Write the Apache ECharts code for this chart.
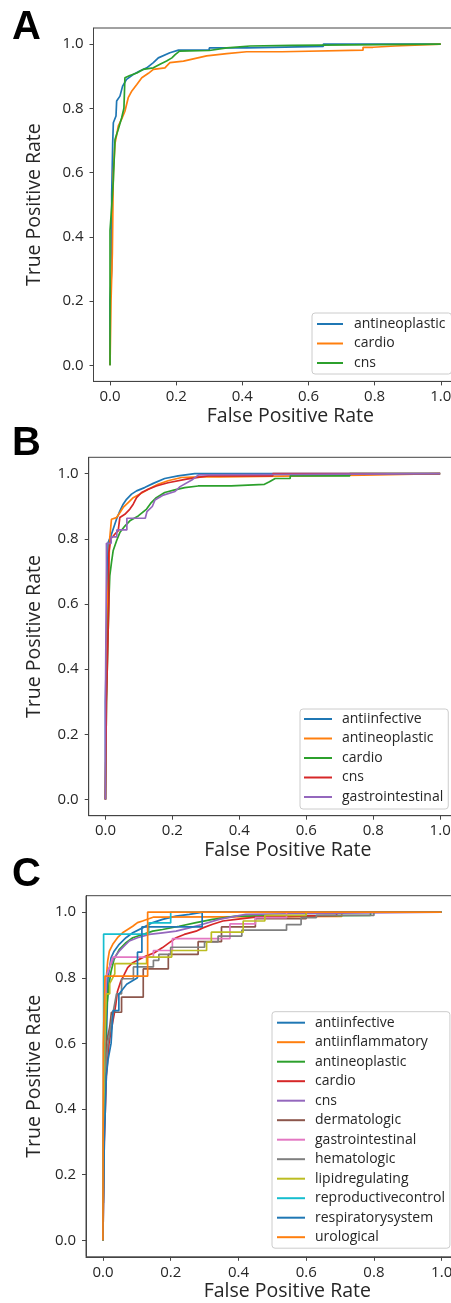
<!DOCTYPE html>
<html><head><meta charset="utf-8">
<script src="https://cdn.jsdelivr.net/npm/echarts@6/dist/echarts.min.js"></script>
<style>html,body{margin:0;padding:0;background:#fff}#c{width:451px;height:1303px}</style>
</head><body><div id="c"></div>
<script>
// ---------- DATA ----------
const tickValues = [0, 0.2, 0.4, 0.6, 0.8, 1.0];
const panelLetters = ['A', 'B', 'C'];
const xTitle = 'False Positive Rate';
const yTitle = 'True Positive Rate';

// Panel A
const namesA = ['antineoplastic', 'cardio', 'cns'];
const A_antineoplastic = [[0,0],[0,0.2],[0.005,0.3],[0.005,0.53],[0.008,0.69],[0.01,0.755],[0.018,0.776],[0.02,0.823],[0.03,0.838],[0.038,0.869],[0.05,0.89],[0.07,0.905],[0.09,0.916],[0.111,0.926],[0.131,0.942],[0.146,0.957],[0.181,0.973],[0.207,0.981],[0.3,0.981],[0.3,0.988],[0.413,0.988],[0.413,0.993],[0.645,0.993],[0.645,1],[1,1]];
const A_cardio = [[0,0],[0.003,0.2],[0.007,0.35],[0.01,0.6],[0.015,0.69],[0.025,0.745],[0.035,0.766],[0.045,0.791],[0.055,0.833],[0.066,0.854],[0.081,0.874],[0.096,0.895],[0.116,0.909],[0.131,0.921],[0.166,0.926],[0.181,0.942],[0.222,0.947],[0.252,0.954],[0.292,0.963],[0.353,0.97],[0.413,0.976],[0.52,0.976],[0.52,0.981],[0.765,0.981],[0.765,0.99],[0.795,0.99],[0.795,0.994],[0.862,0.994],[0.862,1],[1,1]];
const A_cns = [[0,0],[0,0.42],[0.005,0.494],[0.01,0.577],[0.015,0.703],[0.025,0.735],[0.035,0.77],[0.042,0.8],[0.045,0.8],[0.045,0.895],[0.06,0.902],[0.081,0.91],[0.1,0.921],[0.131,0.926],[0.151,0.937],[0.171,0.947],[0.187,0.957],[0.197,0.967],[0.21,0.978],[0.3,0.98],[0.353,0.988],[0.423,0.994],[0.55,0.996],[0.55,1],[1,1]];

// Panel B
const namesB = ['antiinfective', 'antineoplastic', 'cardio', 'cns', 'gastrointestinal'];
const B_antiinfective = [[0,0],[0,0.3],[0.005,0.6],[0.008,0.788],[0.018,0.814],[0.033,0.86],[0.043,0.885],[0.053,0.906],[0.063,0.921],[0.078,0.937],[0.093,0.947],[0.117,0.957],[0.143,0.97],[0.177,0.985],[0.217,0.993],[0.267,1],[1,1]];
const B_antineoplastic = [[0,0],[0.002,0.3],[0.006,0.6],[0.013,0.803],[0.018,0.86],[0.033,0.865],[0.043,0.88],[0.053,0.896],[0.068,0.911],[0.083,0.926],[0.103,0.937],[0.128,0.952],[0.157,0.967],[0.187,0.978],[0.227,0.988],[0.277,0.99],[0.343,0.99],[0.343,0.995],[0.77,0.995],[0.77,1],[1,1]];
const B_cardio = [[0,0],[0.003,0.3],[0.01,0.6],[0.013,0.686],[0.018,0.727],[0.023,0.763],[0.033,0.793],[0.043,0.819],[0.058,0.839],[0.073,0.855],[0.098,0.87],[0.123,0.891],[0.137,0.911],[0.152,0.926],[0.177,0.942],[0.207,0.95],[0.237,0.957],[0.277,0.962],[0.376,0.962],[0.376,0.967],[0.475,0.967],[0.49,0.975],[0.507,0.985],[0.552,0.985],[0.552,0.993],[0.73,0.993],[0.73,1],[1,1]];
const B_cns = [[0,0],[0.003,0.3],[0.01,0.6],[0.01,0.757],[0.016,0.8],[0.028,0.814],[0.038,0.824],[0.043,0.865],[0.058,0.875],[0.073,0.891],[0.083,0.906],[0.093,0.926],[0.108,0.942],[0.128,0.952],[0.152,0.962],[0.187,0.972],[0.242,0.983],[0.307,0.993],[0.5,0.993],[0.5,1],[1,1]];
const B_gastrointestinal = [[0,0],[0,0.3],[0.003,0.72],[0.003,0.786],[0.017,0.786],[0.017,0.806],[0.034,0.806],[0.034,0.827],[0.064,0.827],[0.064,0.863],[0.119,0.863],[0.124,0.883],[0.14,0.899],[0.148,0.919],[0.173,0.934],[0.208,0.945],[0.223,0.96],[0.258,0.98],[0.278,0.996],[0.283,1],[1,1]];

// Panel C
const namesC = ['antiinfective', 'antiinflammatory', 'antineoplastic', 'cardio', 'cns', 'dermatologic', 'gastrointestinal', 'hematologic', 'lipidregulating', 'reproductivecontrol', 'respiratorysystem', 'urological'];
const C_antiinfective = [[0,0],[0.002,0.3],[0.005,0.5],[0.01,0.6],[0.015,0.8],[0.024,0.861],[0.033,0.881],[0.048,0.902],[0.068,0.922],[0.088,0.937],[0.117,0.952],[0.147,0.968],[0.176,0.978],[0.216,0.988],[0.255,0.993],[0.295,1],[1,1]];
const C_antiinflammatory = [[0,0],[0.001,0.3],[0.004,0.6],[0.01,0.8],[0.014,0.851],[0.019,0.881],[0.029,0.902],[0.043,0.922],[0.058,0.937],[0.073,0.947],[0.088,0.957],[0.102,0.968],[0.117,0.973],[0.15,0.985],[0.705,0.987],[0.705,1],[1,1]];
const C_antineoplastic = [[0,0],[0.002,0.3],[0.005,0.5],[0.01,0.7],[0.018,0.78],[0.024,0.82],[0.033,0.856],[0.048,0.886],[0.068,0.907],[0.088,0.922],[0.117,0.932],[0.147,0.942],[0.176,0.947],[0.225,0.957],[0.275,0.968],[0.324,0.978],[0.393,0.988],[0.79,0.99],[0.79,1],[1,1]];
const C_cardio = [[0,0],[0.004,0.3],[0.01,0.5],[0.018,0.6],[0.024,0.638],[0.033,0.688],[0.038,0.719],[0.043,0.759],[0.053,0.79],[0.063,0.81],[0.073,0.831],[0.088,0.846],[0.107,0.856],[0.127,0.866],[0.152,0.876],[0.176,0.892],[0.196,0.907],[0.216,0.922],[0.24,0.932],[0.275,0.942],[0.295,0.952],[0.324,0.963],[0.354,0.973],[0.393,0.978],[0.45,0.985],[0.69,0.99],[0.69,1],[1,1]];
const C_cns = [[0,0],[0.002,0.3],[0.006,0.6],[0.009,0.79],[0.014,0.82],[0.024,0.841],[0.033,0.861],[0.048,0.881],[0.063,0.897],[0.078,0.912],[0.102,0.922],[0.137,0.932],[0.176,0.937],[0.216,0.942],[0.255,0.952],[0.295,0.963],[0.343,0.978],[0.393,0.988],[0.422,0.993],[0.55,0.995],[0.55,1],[1,1]];
const C_dermatologic = [[0,0],[0.002,0.3],[0.005,0.45],[0.01,0.6],[0.02,0.65],[0.025,0.695],[0.055,0.695],[0.055,0.741],[0.119,0.741],[0.119,0.827],[0.193,0.827],[0.193,0.871],[0.281,0.871],[0.281,0.91],[0.35,0.91],[0.35,0.955],[0.45,0.955],[0.45,0.98],[0.6,0.98],[0.6,1],[1,1]];
const C_gastrointestinal = [[0,0],[0.002,0.3],[0.005,0.7],[0.009,0.8],[0.019,0.83],[0.029,0.863],[0.149,0.863],[0.149,0.883],[0.205,0.883],[0.205,0.919],[0.375,0.919],[0.375,0.964],[0.45,0.964],[0.45,0.983],[0.542,0.983],[0.542,1],[1,1]];
const C_hematologic = [[0,0],[0.002,0.3],[0.005,0.5],[0.015,0.6],[0.03,0.695],[0.04,0.751],[0.055,0.751],[0.055,0.797],[0.09,0.797],[0.09,0.833],[0.149,0.833],[0.149,0.853],[0.165,0.853],[0.165,0.871],[0.2,0.871],[0.2,0.893],[0.3,0.893],[0.3,0.909],[0.34,0.909],[0.34,0.927],[0.41,0.927],[0.41,0.945],[0.542,0.945],[0.542,0.962],[0.585,0.962],[0.585,0.983],[0.63,0.983],[0.63,0.99],[0.8,0.99],[0.8,1],[1,1]];
const C_lipidregulating = [[0,0],[0.002,0.3],[0.005,0.6],[0.01,0.751],[0.02,0.751],[0.02,0.782],[0.035,0.812],[0.035,0.843],[0.129,0.843],[0.129,0.863],[0.203,0.863],[0.203,0.883],[0.306,0.883],[0.306,0.909],[0.32,0.909],[0.32,0.939],[0.414,0.939],[0.414,0.973],[0.478,0.973],[0.478,0.99],[0.6,0.99],[0.6,1],[1,1]];
const C_reproductivecontrol = [[0,0],[0.002,0.6],[0.002,0.933],[0.135,0.933],[0.135,0.967],[0.2,0.967],[0.2,1],[1,1]];
const C_respiratorysystem = [[0,0],[0.004,0.3],[0.01,0.5],[0.015,0.55],[0.024,0.6],[0.03,0.7],[0.047,0.7],[0.047,0.75],[0.07,0.78],[0.102,0.8],[0.102,0.878],[0.115,0.878],[0.115,0.955],[0.293,0.955],[0.293,1],[1,1]];
const C_urological = [[0,0],[0.001,0.6],[0.006,0.6],[0.006,0.805],[0.132,0.805],[0.132,1],[1,1]];

const colorsA = ['#1f77b4', '#ff7f0e', '#2ca02c'];
const colorsB = ['#1f77b4', '#ff7f0e', '#2ca02c', '#d62728', '#9467bd'];
const colorsC = ['#1f77b4', '#ff7f0e', '#2ca02c', '#d62728', '#9467bd', '#8c564b', '#e377c2', '#7f7f7f', '#bcbd22', '#17becf', '#1f77b4', '#ff7f0e'];

const dataA = [A_antineoplastic, A_cardio, A_cns];
const dataB = [B_antiinfective, B_antineoplastic, B_cardio, B_cns, B_gastrointestinal];
const dataC = [C_antiinfective, C_antiinflammatory, C_antineoplastic, C_cardio, C_cns, C_dermatologic, C_gastrointestinal, C_hematologic, C_lipidregulating, C_reproductivecontrol, C_respiratorysystem, C_urological];

// ---------- LAYOUT ----------
const FONT = '"Open Sans", "DejaVu Sans", sans-serif';
const TXT = '#262626';
const AX = '#444';
const grids = [
  {left: 93.5, top: 28, width: 363.8, height: 353.4},
  {left: 88.7, top: 457.3, width: 368.2, height: 358.4},
  {left: 86, top: 895.7, width: 372.6, height: 361.1}
];
const yNameGap = [49, 44.2, 41.5];
const legends = [
  {left: 312, top: 313, pad: [4, 6, 4, 5], iw: 26, tpad: 6},
  {left: 300, top: 709, pad: [3, 5, 5, 4], iw: 28, tpad: 5},
  {left: 272, top: 1011.7, pad: [4, 5, 4, 5], iw: 28, tpad: 5}
];
const letterTops = [8, 424, 855];

const panels = [
  {names: namesA, data: dataA, colors: colorsA},
  {names: namesB, data: dataB, colors: colorsB},
  {names: namesC, data: dataC, colors: colorsC}
];

const option = {
  animation: false,
  backgroundColor: '#fff',
  grid: grids.map(g => Object.assign({show: true, borderColor: AX, borderWidth: 1, backgroundColor: 'transparent', containLabel: false, outerBoundsMode: 'none'}, g)),
  xAxis: grids.map((g, i) => ({
    gridIndex: i, type: 'value', min: -0.05, max: 1.05,
    axisLine: {show: true, onZero: false, lineStyle: {color: AX, width: 1}},
    axisTick: {show: true, inside: false, length: 4, customValues: tickValues, lineStyle: {color: AX}},
    axisLabel: {customValues: tickValues, formatter: v => v.toFixed(1), margin: 8, fontSize: 15, color: TXT, fontFamily: FONT},
    splitLine: {show: false},
    name: xTitle, nameLocation: 'middle', nameGap: 25,
    nameTextStyle: {fontSize: 19.5, color: TXT, fontFamily: FONT, padding: [0, 0, 0, 30]}
  })),
  yAxis: grids.map((g, i) => ({
    gridIndex: i, type: 'value', min: -0.05, max: 1.05,
    axisLine: {show: true, onZero: false, lineStyle: {color: AX, width: 1}},
    axisTick: {show: true, inside: false, length: 4, customValues: tickValues, lineStyle: {color: AX}},
    axisLabel: {customValues: tickValues, formatter: v => v.toFixed(1), margin: 10, fontSize: 15, color: TXT, fontFamily: FONT},
    splitLine: {show: false},
    name: yTitle, nameLocation: 'middle', nameGap: yNameGap[i], nameRotate: 90,
    nameTextStyle: {fontSize: 19.5, color: TXT, fontFamily: FONT}
  })),
  legend: panels.map((p, i) => ({
    orient: 'vertical', left: legends[i].left, top: legends[i].top,
    padding: legends[i].pad, itemGap: 5.5,
    itemWidth: legends[i].iw, itemHeight: 2, icon: 'rect',
    backgroundColor: 'rgba(255,255,255,0.8)', borderColor: '#ccc', borderWidth: 1, borderRadius: 3,
    data: p.names.map(n => panelLetters[i] + ':' + n),
    formatter: name => name.slice(2),
    selectedMode: false,
    textStyle: {fontSize: 14, lineHeight: 14, color: TXT, fontFamily: FONT, padding: [0, 0, 0, legends[i].tpad]}
  })),
  graphic: panelLetters.map((L, i) => ({
    type: 'text', left: 12, top: letterTops[i],
    style: {text: L, font: 'bold 40px "Liberation Sans", Arial, sans-serif', fill: '#000'}
  })),
  series: []
};

panels.forEach((p, i) => {
  p.names.forEach((n, k) => {
    option.series.push({
      type: 'line', name: panelLetters[i] + ':' + n,
      xAxisIndex: i, yAxisIndex: i,
      data: p.data[k], showSymbol: false, symbol: 'none',
      lineStyle: {color: p.colors[k], width: 1.7},
      itemStyle: {color: p.colors[k]}
    });
  });
});

const chart = echarts.init(document.getElementById('c'), null, {renderer: 'canvas'});
chart.setOption(option);
</script>
</body></html>
